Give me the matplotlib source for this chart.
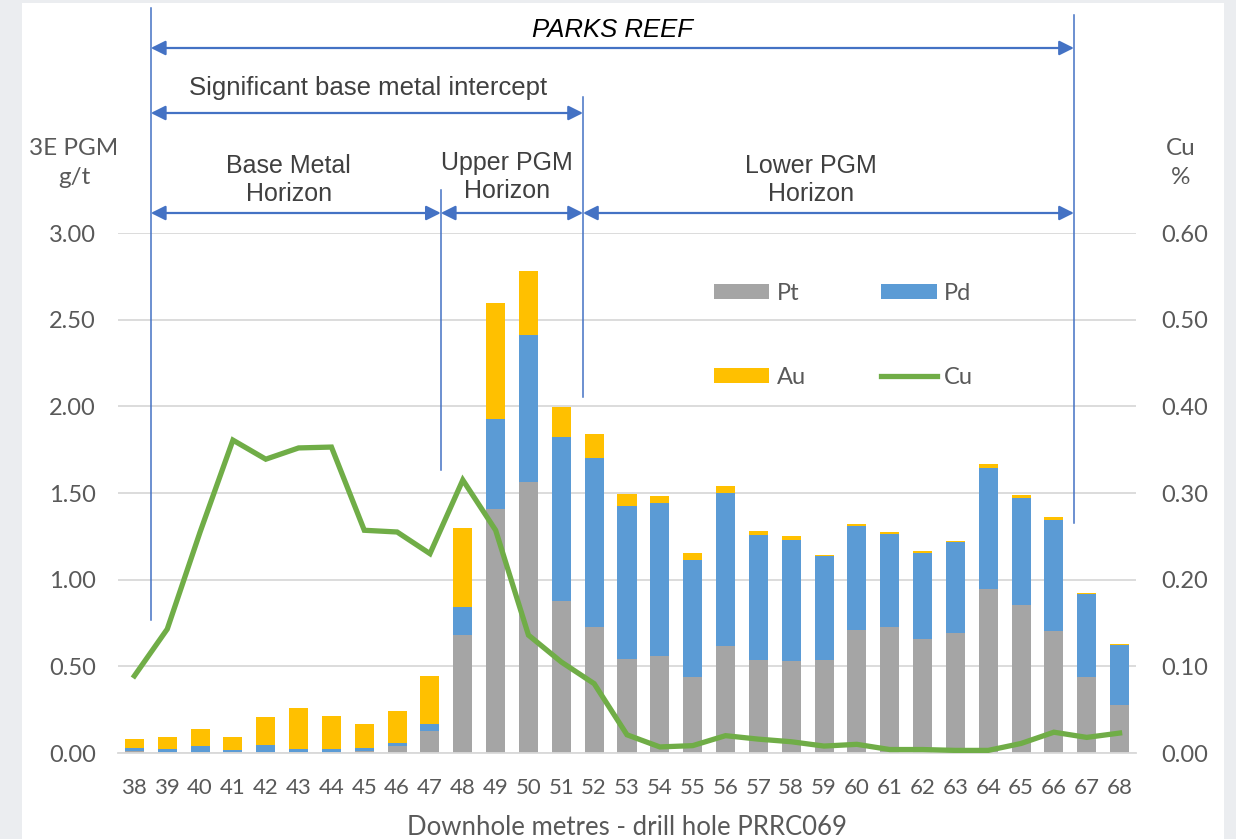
import numpy as np
import matplotlib
matplotlib.use("Agg")
import matplotlib.pyplot as plt
from matplotlib.patches import Rectangle
import matplotlib.transforms as mtransforms

# data
metres = list(range(38, 69))
pt = [0.01, 0.005, 0.005, 0.005, 0.005, 0.005, 0.005, 0.01, 0.04, 0.125,
      0.68, 1.405, 1.565, 0.875, 0.727, 0.545, 0.56, 0.44, 0.62, 0.535,
      0.53, 0.535, 0.71, 0.725, 0.66, 0.69, 0.945, 0.852, 0.705, 0.44, 0.275]
pd_ = [0.02, 0.02, 0.035, 0.01, 0.04, 0.02, 0.02, 0.02, 0.015, 0.04,
       0.165, 0.524, 0.845, 0.95, 0.973, 0.88, 0.88, 0.675, 0.88, 0.723,
       0.70, 0.60, 0.60, 0.54, 0.495, 0.525, 0.70, 0.618, 0.64, 0.475, 0.348]
au = [0.05, 0.07, 0.10, 0.08, 0.16, 0.235, 0.19, 0.14, 0.19, 0.28,
      0.455, 0.666, 0.37, 0.17, 0.142, 0.07, 0.045, 0.04, 0.04, 0.025,
      0.022, 0.01, 0.01, 0.01, 0.01, 0.01, 0.025, 0.018, 0.015, 0.008, 0.008]
cu = [0.089, 0.143, 0.255, 0.361, 0.339, 0.352, 0.353, 0.257, 0.255, 0.230,
      0.315, 0.257, 0.136, 0.105, 0.080, 0.021, 0.007, 0.0085, 0.020, 0.016,
      0.013, 0.008, 0.010, 0.004, 0.004, 0.003, 0.003, 0.011, 0.024, 0.018, 0.023]

# horizon boundaries (downhole metres)
reef_top, reef_base = 38.5, 66.61
upper_top, upper_base = 47.33, 51.66

C_PT, C_PD, C_AU, C_CU = "#a5a5a5", "#5b9bd5", "#ffc000", "#70ad47"
C_ANN = "#4472c4"
TXT = "#595959"

plt.rcParams["font.family"] = ["Lato", "DejaVu Sans"]

W, H = 1236, 839
fig = plt.figure(figsize=(W / 100, H / 100), dpi=100, facecolor="#ebedf0")
fig.add_artist(Rectangle((22 / W, 0), (1224 - 22) / W, (H - 3) / H,
                         transform=fig.transFigure, facecolor="white",
                         edgecolor="none", zorder=-10))

ax = fig.add_axes([118 / W, (H - 753) / H, (1136 - 118) / W, 520 / H])
ax.set_facecolor("none")
x = np.array(metres)
pt_a, pd_a, au_a = np.array(pt), np.array(pd_), np.array(au)
bw = 0.58
b1 = ax.bar(x, pt_a, bw, color=C_PT, label="Pt", zorder=2)
b2 = ax.bar(x, pd_a, bw, bottom=pt_a, color=C_PD, label="Pd", zorder=2)
b3 = ax.bar(x, au_a, bw, bottom=pt_a + pd_a, color=C_AU, label="Au", zorder=2)

ax.set_xlim(37.5, 68.5)
ax.set_ylim(0, 3.0)
ax.set_yticks(np.arange(0, 3.01, 0.5))
ax.set_yticklabels([f"{v:.2f}" for v in np.arange(0, 3.01, 0.5)])
ax.set_xticks(metres)
ax.grid(axis="y", color="#d9d9d9", lw=1.3, zorder=0)
for s in ["top", "right", "left"]:
    ax.spines[s].set_visible(False)
ax.spines["bottom"].set_color("#d9d9d9")
ax.spines["bottom"].set_linewidth(1.3)
ax.tick_params(axis="y", length=0, pad=16, labelsize=17, labelcolor=TXT)
ax.tick_params(axis="x", length=0, pad=18, labelsize=16, labelcolor=TXT)
ax.set_xlabel("Downhole metres - drill hole PRRC069", fontsize=18.5,
              color=TXT, labelpad=12)

ax2 = ax.twinx()
ax2.set_ylim(0, 0.6)
ax2.set_yticks(np.arange(0, 0.61, 0.1))
ax2.set_yticklabels([f"{v:.2f}" for v in np.arange(0, 0.61, 0.1)])
for s in ax2.spines.values():
    s.set_visible(False)
ax2.tick_params(axis="y", length=0, pad=18, labelsize=17, labelcolor=TXT)
l1, = ax2.plot(x, cu, color=C_CU, lw=3.8, label="Cu", zorder=3,
               solid_joinstyle="miter")

fig.text(74 / W, 1 - 163 / H, "3E PGM\ng/t", ha="center", va="center",
         fontsize=17.5, color=TXT, linespacing=1.45)
fig.text(1181 / W, 1 - 163 / H, "Cu\n%", ha="center", va="center",
         fontsize=17.5, color=TXT, linespacing=1.45)

ax2.legend(handles=[b1, b3, b2, l1], labels=["Pt", "Au", "Pd", "Cu"],
           ncol=2, frameon=False, loc="upper left",
           bbox_to_anchor=(714 / W, 1 - 283 / H), bbox_transform=fig.transFigure,
           fontsize=17, labelcolor=TXT, handlelength=2.35, handleheight=0.6,
           handletextpad=0.3, columnspacing=3.2, labelspacing=2.65,
           borderpad=0, borderaxespad=0)

# horizon annotations above the plot
trans = mtransforms.blended_transform_factory(ax.transData, ax.transAxes)
def fy(ypx):
    return (753 - ypx) / 520

for xv, y0, y1 in [(reef_top, 8, 620), (upper_top, 190, 470),
                   (upper_base, 97, 397), (reef_base, 15, 523)]:
    ax.plot([xv, xv], [fy(y1), fy(y0)], transform=trans, color=C_ANN,
            lw=1.1, clip_on=False, zorder=4)

def span(x0, x1, ypx):
    ax.annotate("", xy=(x1, fy(ypx)), xytext=(x0, fy(ypx)), xycoords=trans,
                textcoords=trans, annotation_clip=False,
                arrowprops=dict(arrowstyle="<|-|>", color=C_ANN, lw=1.6,
                                mutation_scale=22, shrinkA=0, shrinkB=0))

span(reef_top, reef_base, 48)
span(reef_top, upper_base, 113)
span(reef_top, upper_top, 213)
span(upper_top, upper_base, 213)
span(upper_base, reef_base, 213)

afont = dict(family=["Liberation Sans", "DejaVu Sans"], color="#404040",
             ha="center", va="center")
ax.text((reef_top + reef_base) / 2, fy(30), "PARKS REEF", transform=trans,
        fontsize=18.5, style="italic", color="black", ha="center", va="center",
        family=["Liberation Sans", "DejaVu Sans"])
ax.text(45.1, fy(88), "Significant base metal intercept", transform=trans,
        fontsize=18.5, **afont)
ax.text(42.7, fy(180), "Base Metal\nHorizon", transform=trans,
        fontsize=18, linespacing=1.2, **afont)
ax.text(49.35, fy(177), "Upper PGM\nHorizon", transform=trans,
        fontsize=18, linespacing=1.2, **afont)
ax.text(58.6, fy(180), "Lower PGM\nHorizon", transform=trans,
        fontsize=18, linespacing=1.2, **afont)

fig.savefig("out.png", dpi=100, facecolor=fig.get_facecolor())
